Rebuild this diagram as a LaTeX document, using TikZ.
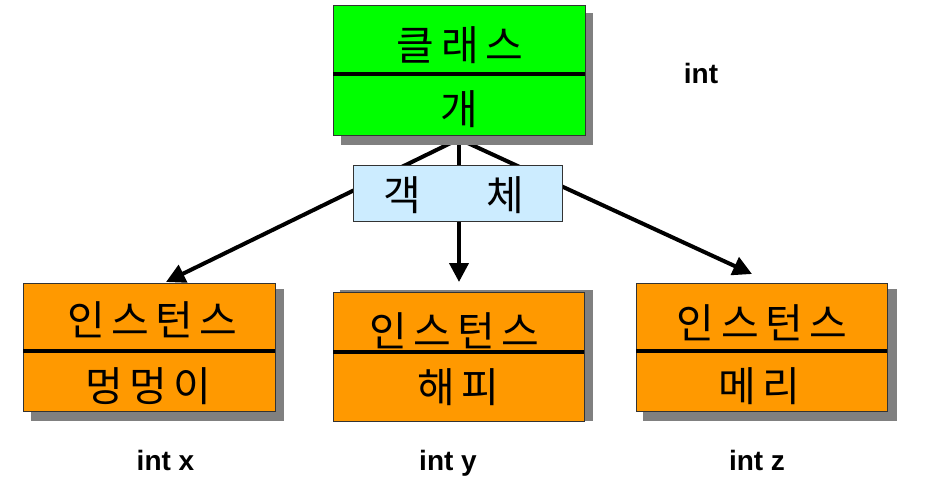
\documentclass[tikz,border=0pt]{standalone}
\usepackage{fontspec}
\newfontfamily\kr{Noto Sans CJK KR}
\newfontfamily\lb{Liberation Sans}[BoldFont={Liberation Sans Bold}]
\usetikzlibrary{arrows.meta}
\definecolor{boxgreen}{HTML}{00FF00}
\definecolor{boxorange}{HTML}{FF9900}
\definecolor{boxblue}{HTML}{CCECFF}
\definecolor{shadowgray}{HTML}{808080}
\definecolor{edgegray}{HTML}{333333}
\newcommand\ks{\hspace{6.5pt}}
\tikzset{
  shadowbox/.style={fill=shadowgray, draw=none},
  umlbox/.style={draw=edgegray, line width=0.8pt, inner sep=0pt, outer sep=0pt},
  divider/.style={line width=4.5pt, black},
  krtext/.style={font=\kr\fontsize{41}{43}\selectfont, inner sep=0pt, anchor=base},
  inttext/.style={font=\lb\bfseries\fontsize{28}{30}\selectfont, inner sep=0pt, anchor=base},
  link/.style={line width=4pt, black},
  arrowlink/.style={link, -{Triangle[width=19pt,length=19pt]}},
}
\begin{document}
\begin{tikzpicture}[x=1pt,y=-1pt]
\useasboundingbox (0,0) rectangle (927,484);
% connectors (drawn first, under boxes)
\coordinate (hub) at (459,139);
\coordinate (tipL) at (166,282);
\coordinate (tipM) at (459,282);
\coordinate (tipR) at (752,274);
\draw[arrowlink] (hub) -- (tipL);
\draw[arrowlink] (hub) -- (tipM);
\draw[arrowlink] (hub) -- (tipR);
% top class box
\fill[shadowbox] (341,13) rectangle (593,145);
\node[umlbox, fill=boxgreen, minimum width=252pt, minimum height=130pt] (cls) at (459,70) {};
\draw[divider] (cls.west |- 0,74) -- (cls.east |- 0,74);
\node[krtext] (clsname) at (460,61) {클\ks 래\ks 스};
\node[krtext] (clsval) at (459,125) {개};
% object label box
\node[umlbox, fill=boxblue, minimum width=209pt, minimum height=56pt] (obj) at (457.5,193) {};
\node[krtext] (objA) at (402,211) {객};
\node[krtext] (objB) at (505.5,211) {체};
% left instance
\fill[shadowbox] (31,289) rectangle (284,421);
\node[umlbox, fill=boxorange, minimum width=252pt, minimum height=128pt] (instL) at (149,347) {};
\draw[divider] (instL.west |- 0,351) -- (instL.east |- 0,351);
\node[krtext] (instLname) at (152.5,335) {인\ks 스\ks 턴\ks 스};
\node[krtext] (instLval) at (148.5,401) {멍\ks 멍\ks 이};
% middle instance
\fill[shadowbox] (340,290) rectangle (593,421);
\node[umlbox, fill=boxorange, minimum width=251pt, minimum height=129pt] (instM) at (458.5,356.5) {};
\draw[divider] (instM.west |- 0,352) -- (instM.east |- 0,352);
\node[krtext] (instMname) at (454.5,346) {인\ks 스\ks 턴\ks 스};
\node[krtext] (instMval) at (458,402) {해\ks 피};
% right instance
\fill[shadowbox] (643,289) rectangle (897,421);
\node[umlbox, fill=boxorange, minimum width=251pt, minimum height=128pt] (instR) at (761.5,347) {};
\draw[divider] (instR.west |- 0,351) -- (instR.east |- 0,351);
\node[krtext] (instRname) at (762,338) {인\ks 스\ks 턴\ks 스};
\node[krtext] (instRval) at (759,401) {메\ks 리};
% int labels
\node[inttext] (intTop) at (701,84) {int};
\node[inttext] (intX) at (165.5,470) {int x};
\node[inttext] (intY) at (448,470) {int y};
\node[inttext] (intZ) at (757,470) {int z};
\end{tikzpicture}
\end{document}
